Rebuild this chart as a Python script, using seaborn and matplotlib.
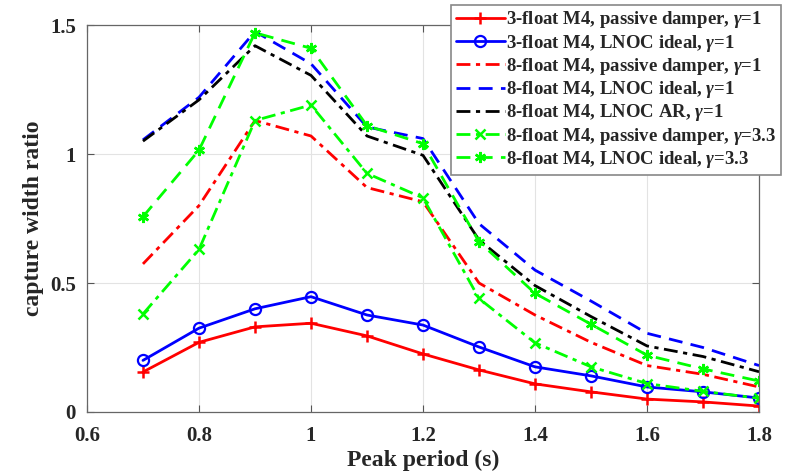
import numpy as np
import matplotlib
matplotlib.use("Agg")
import matplotlib.pyplot as plt
import seaborn as sns
import pandas as pd

period = [0.7, 0.8, 0.9, 1.0, 1.1, 1.2, 1.3, 1.4, 1.5, 1.6, 1.7, 1.8]

f3_passive = [0.155, 0.27, 0.33, 0.344, 0.295, 0.225, 0.163, 0.109, 0.078, 0.05, 0.039, 0.023]
f3_lnoc = [0.20, 0.325, 0.40, 0.447, 0.376, 0.337, 0.252, 0.175, 0.14, 0.097, 0.078, 0.054]
f8_passive = [0.574, 0.80, 1.13, 1.07, 0.87, 0.815, 0.50, 0.376, 0.27, 0.18, 0.146, 0.097]
f8_lnoc = [1.055, 1.22, 1.475, 1.35, 1.105, 1.06, 0.73, 0.55, 0.43, 0.305, 0.25, 0.18]
f8_ar = [1.05, 1.21, 1.42, 1.305, 1.07, 0.995, 0.667, 0.49, 0.37, 0.256, 0.215, 0.156]
f8_passive_33 = [0.38, 0.63, 1.13, 1.19, 0.925, 0.83, 0.44, 0.268, 0.175, 0.11, 0.08, 0.053]
f8_lnoc_33 = [0.757, 1.015, 1.47, 1.41, 1.11, 1.04, 0.66, 0.46, 0.34, 0.22, 0.167, 0.12]

labels = [
    r"3-float M4, passive damper, $\gamma$=1",
    r"3-float M4, LNOC ideal, $\gamma$=1",
    r"8-float M4, passive damper, $\gamma$=1",
    r"8-float M4, LNOC ideal, $\gamma$=1",
    r"8-float M4, LNOC AR, $\gamma$=1",
    r"8-float M4, passive damper, $\gamma$=3.3",
    r"8-float M4, LNOC ideal, $\gamma$=3.3",
]
series = [f3_passive, f3_lnoc, f8_passive, f8_lnoc, f8_ar, f8_passive_33, f8_lnoc_33]

dashdot = (0, (5, 2, 1.5, 2))
dashed = (0, (5, 3))
styles = [
    dict(color="red", ls="-", marker="+", ms=9, mew=1.8, mfc="red"),
    dict(color="blue", ls="-", marker="o", ms=8, mew=1.6, mfc="none"),
    dict(color="red", ls=dashdot, marker="None", ms=0, mew=0, mfc="none"),
    dict(color="blue", ls=dashed, marker="None", ms=0, mew=0, mfc="none"),
    dict(color="black", ls=dashdot, marker="None", ms=0, mew=0, mfc="none"),
    dict(color="#00ff00", ls=dashdot, marker="x", ms=7, mew=1.8, mfc="#00ff00"),
    dict(color="#00ff00", ls=dashed, marker=(6, 2, 0), ms=8, mew=1.8, mfc="#00ff00"),
]

sns.set_style("ticks")
plt.rcParams["font.family"] = ["Liberation Serif", "DejaVu Serif"]
plt.rcParams["font.weight"] = "bold"
plt.rcParams["mathtext.fontset"] = "custom"
plt.rcParams["mathtext.it"] = "Liberation Serif:italic:bold"
plt.rcParams["mathtext.rm"] = "Liberation Serif:bold"

fig = plt.figure(figsize=(7.87, 4.73), dpi=100)
ax = fig.add_axes([0.1105, 0.129, 0.854, 0.818])

for lab, vals, st in zip(labels, series, styles):
    df = pd.DataFrame({"period": period, "cwr": vals})
    sns.lineplot(data=df, x="period", y="cwr", ax=ax, label=lab, lw=2,
                 color=st["color"])
    line = ax.lines[-1]
    line.set_linestyle(st["ls"])
    line.set_marker(st["marker"])
    line.set_markersize(st["ms"])
    line.set_markeredgewidth(st["mew"])
    line.set_markeredgecolor(st["color"])
    line.set_markerfacecolor(st["mfc"])

ax.set_xlim(0.6, 1.8)
ax.set_ylim(0, 1.5)
ax.set_xticks([0.6, 0.8, 1.0, 1.2, 1.4, 1.6, 1.8])
ax.set_xticklabels(["0.6", "0.8", "1", "1.2", "1.4", "1.6", "1.8"])
ax.set_yticks([0, 0.5, 1, 1.5])
ax.set_yticklabels(["0", "0.5", "1", "1.5"])
ax.grid(True, color="#e3e3e3", lw=0.8)
ax.tick_params(direction="in", top=True, right=True, labelsize=15, length=5,
               color="#555555")
ax.tick_params(axis="x", pad=10)
ax.tick_params(axis="y", pad=8)
for lab in ax.get_xticklabels() + ax.get_yticklabels():
    lab.set_fontweight("bold")
for s in ax.spines.values():
    s.set_color("#666666")
    s.set_linewidth(0.9)
ax.set_xlabel("Peak period (s)", fontsize=17, fontweight="bold", labelpad=3)
ax.set_ylabel("capture width ratio", fontsize=17, fontweight="bold", labelpad=4)

leg = ax.legend(loc="upper right", bbox_to_anchor=(0.993, 0.99),
                bbox_transform=fig.transFigure, fontsize=13.5, frameon=True,
                fancybox=False, edgecolor="#888888", framealpha=1,
                borderpad=0.25, labelspacing=0.12, handlelength=2.6,
                handletextpad=0.1, borderaxespad=0)
leg.get_frame().set_linewidth(1.2)
for t in leg.get_texts():
    t.set_fontweight("bold")

fig.savefig("out.png", dpi=100)
